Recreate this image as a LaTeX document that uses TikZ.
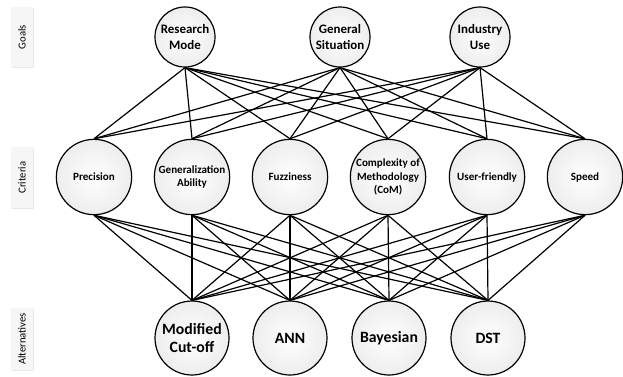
\documentclass[tikz,border=0pt]{standalone}
\usepackage{fontspec}
\setmainfont{Carlito}
\usetikzlibrary{shadows}
\tikzset{
  ball/.style={circle, draw, line width=0.9pt, inner sep=0pt,
    shading=radial, inner color=white, outer color=gray!14},
  goal/.style={ball, minimum size=45pt},
  crit/.style={ball, minimum size=56.5pt},
  alt/.style={ball, minimum size=55.5pt},
  goaltxt/.style={align=center, font=\bfseries\fontsize{9.7}{11.3}\selectfont},
  crittxt/.style={align=center, font=\bfseries\fontsize{8.3}{10.4}\selectfont},
  alttxt/.style={align=center, font=\bfseries\fontsize{11.8}{13.5}\selectfont},
  level/.style={rectangle, fill=gray!7, rotate=90, inner sep=0pt,
    minimum height=16.5pt, font=\fontsize{8}{9}\selectfont,
    drop shadow={opacity=0.18, shadow xshift=1pt, shadow yshift=-1pt}},
  link/.style={line width=0.9pt}
}
\begin{document}
\begin{tikzpicture}[x=0.75pt, y=-0.75pt]
\useasboundingbox (0,0) rectangle (623,376);
% level labels on the left
\node[level, minimum width=45pt] (lgoal) at (22,37) {Goals};
\node[level, minimum width=45.75pt] (lcrit) at (22,177.5) {Criteria};
\node[level, minimum width=46.5pt] (lalt) at (22,339) {Alternatives};
% goals
\node[goal, label={[goaltxt]center:Research\\Mode}] (rm) at (185,37) {};
\node[goal, label={[goaltxt]center:General\\Situation}] (gs) at (340,37) {};
\node[goal, label={[goaltxt]center:Industry\\Use}] (iu) at (480,37) {};
% criteria
\node[crit, label={[crittxt]center:Precision}] (prec) at (94,177) {};
\node[crit, label={[crittxt]center:Generalization\\Ability}] (gen) at (192,177) {};
\node[crit, label={[crittxt]center:Fuzziness}] (fuzz) at (290,177) {};
\node[crit, label={[crittxt]center:Complexity of\\Methodology\\(CoM)}] (com) at (388,177) {};
\node[crit, label={[crittxt]center:User-friendly}] (user) at (487,177) {};
\node[crit, label={[crittxt]center:Speed}] (speed) at (585,177) {};
% alternatives
\node[alt, label={[alttxt]center:Modified\\Cut-off}] (cut) at (192,338) {};
\node[alt, label={[alttxt]center:ANN}] (ann) at (290,338) {};
\node[alt, label={[alttxt]center:Bayesian}] (bay) at (389,338) {};
\node[alt, label={[alttxt]center:DST}] (dst) at (488,338) {};
% goals -- criteria
\foreach \g in {rm,gs,iu}
  \foreach \c in {prec,gen,fuzz,com,user,speed}
    \draw[link] (\g.south) -- (\c.north);
% criteria -- alternatives
\foreach \c in {prec,gen,fuzz,com,user,speed}
  \foreach \a in {cut,ann,bay,dst}
    \draw[link] (\c.south) -- (\a.north);
\end{tikzpicture}
\end{document}
